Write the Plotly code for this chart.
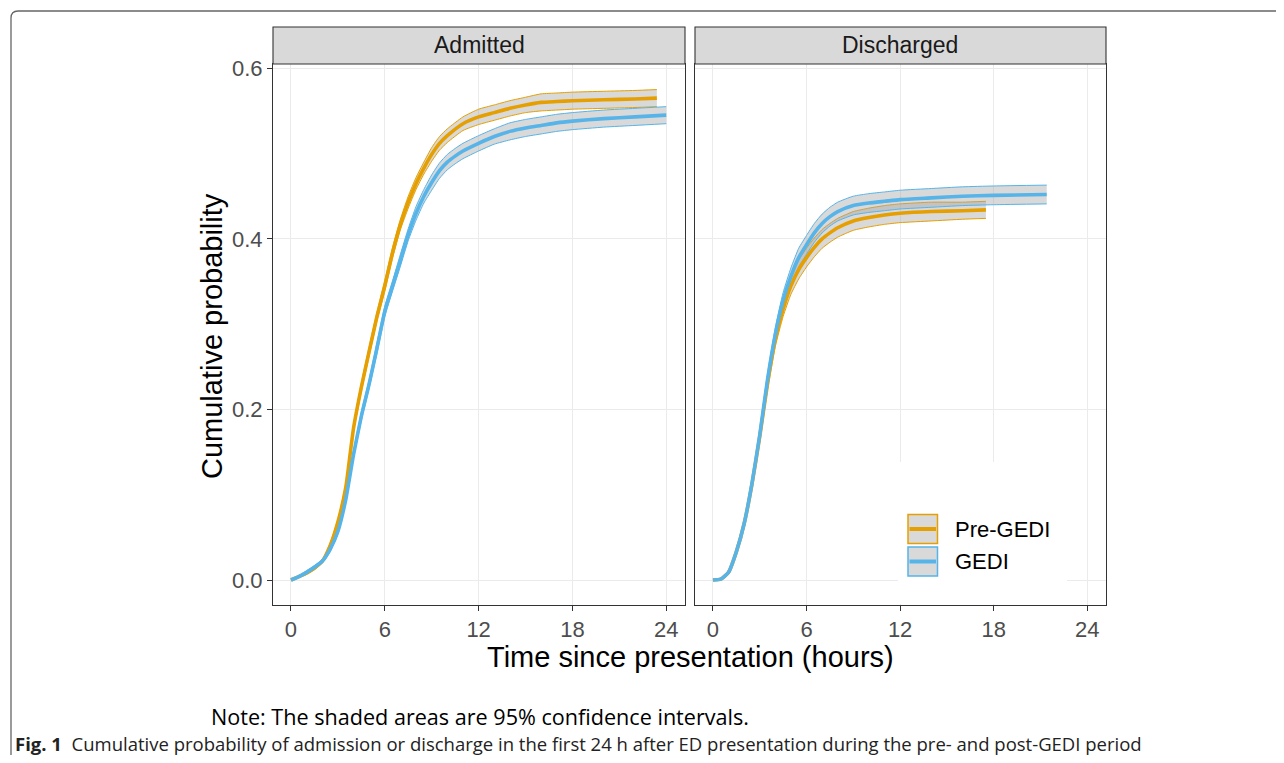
import plotly.graph_objects as go

# page body has an 8px margin; the figure is sized so that it fills the window exactly
OFF = 8
W, H = 1284 - 2 * OFF, 763 - 2 * OFF

# ---------------- data ----------------
panels = ["Admitted", "Discharged"]
groups = ["Pre-GEDI", "GEDI"]
x_ticks = [0, 6, 12, 18, 24]
y_ticks = [0, 0.2, 0.4, 0.6]
y_ticklabels = ["0.0", "0.2", "0.4", "0.6"]

adm_pre_t = [0, 0.5, 1, 1.5, 2, 2.5, 3, 3.5, 3.8, 4.0, 4.5, 5, 5.5, 6, 6.5, 7, 7.5, 8, 8.5, 9,
             9.5, 10, 11, 12, 13, 14, 15, 16, 17, 18, 20, 22, 23.4]
adm_pre = [0, .004, .008, .014, .022, .040, .068, .108, .150, .178, .226, .268, .309, .345, .384, .417,
           .443, .465, .483, .499, .512, .521, .535, .543, .548, .553, .557, .560, .561, .562, .563, .564, .565]
adm_pre_lo = [0, .003, .007, .012, .020, .037, .065, .104, .146, .174, .221, .263, .304, .339, .378, .411,
              .436, .458, .476, .491, .504, .513, .527, .534, .539, .544, .548, .550, .551, .552, .553, .554, .555]
adm_pre_hi = [0, .005, .009, .016, .024, .043, .071, .112, .154, .182, .231, .273, .314, .351, .390, .423,
              .450, .472, .490, .507, .520, .529, .543, .552, .557, .562, .566, .570, .571, .572, .573, .574, .575]

adm_gedi_t = [0, 0.5, 1, 1.5, 2, 2.5, 3, 3.5, 4, 4.5, 5, 5.5, 6, 6.5, 7, 7.5, 8, 8.5, 9, 9.5,
              10, 10.5, 11, 12, 13, 14, 15, 16, 17, 18, 20, 22, 24]
adm_gedi = [0, .004, .009, .015, .022, .036, .057, .094, .147, .192, .230, .272, .315, .345, .375, .405,
            .430, .450, .466, .480, .490, .497, .503, .512, .520, .526, .530, .533, .536, .538, .541, .543, .545]
adm_gedi_lo = [0, .003, .007, .013, .020, .033, .054, .090, .143, .187, .225, .266, .309, .339, .368, .398,
               .422, .442, .457, .471, .481, .488, .494, .503, .511, .516, .520, .523, .526, .528, .531, .533, .535]
adm_gedi_hi = [0, .005, .011, .017, .024, .039, .060, .098, .151, .197, .235, .278, .321, .351, .382, .412,
               .438, .458, .475, .489, .499, .506, .512, .521, .529, .536, .540, .543, .546, .548, .551, .553, .555]

dis_pre_t = [0, 0.5, 1, 1.5, 2, 2.5, 3, 3.5, 4, 4.5, 5, 5.5, 6, 6.5, 7, 7.5, 8, 9, 10, 11, 12, 14, 16, 17.5]
dis_pre = [0, .001, .009, .033, .066, .112, .168, .230, .282, .318, .345, .364, .378, .390, .400, .407,
           .413, .421, .425, .428, .430, .432, .433, .434]
dis_pre_lo = [0, .000, .007, .030, .062, .107, .162, .223, .274, .309, .335, .353, .367, .379, .389, .396,
              .402, .410, .414, .417, .419, .421, .423, .424]
dis_pre_hi = [0, .002, .011, .036, .070, .117, .174, .237, .290, .327, .355, .375, .389, .401, .411, .418,
              .424, .432, .436, .439, .441, .443, .443, .444]

dis_gedi_t = [0, 0.5, 1, 1.5, 2, 2.5, 3, 3.5, 4, 4.5, 5, 5.5, 6, 6.5, 7, 7.5, 8, 9, 10, 11, 12, 14, 16, 18, 21.4]
dis_gedi = [0, .001, .009, .033, .066, .113, .170, .235, .288, .328, .356, .378, .393, .407, .418, .426,
            .432, .439, .442, .444, .446, .448, .450, .451, .452]
dis_gedi_lo = [0, .000, .007, .030, .062, .108, .164, .228, .280, .319, .346, .367, .382, .396, .407, .415,
               .421, .428, .431, .433, .435, .437, .439, .440, .441]
dis_gedi_hi = [0, .002, .011, .036, .070, .118, .176, .242, .296, .337, .366, .389, .404, .418, .429, .437,
               .443, .450, .453, .455, .457, .459, .461, .462, .463]

# ---------------- styling ----------------
ORANGE = "#E69F00"
BLUE = "#56B4E9"
RIBBON = "rgba(165,165,165,0.42)"
FONT = "Liberation Sans, Arial, Helvetica, sans-serif"
CAP_FONT = "Open Sans, Noto Sans, sans-serif"


def px(x):
    """reference-window pixel x -> paper fraction"""
    return (x - OFF) / W


def py(y):
    """reference-window pixel y -> paper fraction"""
    return 1 - (y - OFF) / H


series = [
    ("x", "y", "Pre-GEDI", ORANGE, adm_pre_t, adm_pre, adm_pre_lo, adm_pre_hi),
    ("x", "y", "GEDI", BLUE, adm_gedi_t, adm_gedi, adm_gedi_lo, adm_gedi_hi),
    ("x2", "y2", "Pre-GEDI", ORANGE, dis_pre_t, dis_pre, dis_pre_lo, dis_pre_hi),
    ("x2", "y2", "GEDI", BLUE, dis_gedi_t, dis_gedi, dis_gedi_lo, dis_gedi_hi),
]

fig = go.Figure()
LS = dict(shape="spline", smoothing=0.5)

# ribbons first
for xa, ya, g, c, t, mid, lo, hi in series:
    fig.add_trace(go.Scatter(x=t, y=hi, xaxis=xa, yaxis=ya, mode="lines",
                             line=dict(color=c, width=1, **LS), showlegend=False, hoverinfo="skip"))
    fig.add_trace(go.Scatter(x=t, y=lo, xaxis=xa, yaxis=ya, mode="lines", fill="tonexty",
                             fillcolor=RIBBON, line=dict(color=c, width=1, **LS),
                             showlegend=False, hoverinfo="skip"))
# centre lines
for xa, ya, g, c, t, mid, lo, hi in series:
    fig.add_trace(go.Scatter(x=t, y=mid, xaxis=xa, yaxis=ya, mode="lines", name=g,
                             line=dict(color=c, width=3.6, **LS), showlegend=False))

x_range = [-1.15, 25.2]
y_range = [-0.0293, 0.605]
ydom = [py(605), py(64)]

common_x = dict(range=x_range, tickvals=x_ticks, showgrid=True, gridcolor="#ebebeb", gridwidth=1.1,
                zeroline=False, showline=True, mirror=True, linecolor="#333333", linewidth=1.1,
                ticks="outside", ticklen=5, tickcolor="#333333", tickwidth=1.1,
                tickfont=dict(family=FONT, size=22, color="#4d4d4d"), automargin=False, fixedrange=True)
common_y = dict(range=y_range, tickvals=y_ticks, ticktext=y_ticklabels, showgrid=True,
                gridcolor="#ebebeb", gridwidth=1.1, zeroline=False, showline=True, mirror=True,
                linecolor="#333333", linewidth=1.1, domain=ydom, automargin=False, fixedrange=True)

fig.update_layout(
    width=W, height=H,
    margin=dict(l=0, r=0, t=0, b=0),
    paper_bgcolor="white", plot_bgcolor="white",
    showlegend=False,
    xaxis=dict(domain=[px(273), px(685)], anchor="y", **common_x),
    xaxis2=dict(domain=[px(695), px(1106)], anchor="y2", **common_x),
    yaxis=dict(anchor="x", ticks="outside", ticklen=5, tickcolor="#333333", tickwidth=1.1,
               tickfont=dict(family=FONT, size=22, color="#4d4d4d"), **common_y),
    yaxis2=dict(anchor="x2", showticklabels=False, ticks="", **common_y),
)

shapes = []
annotations = []

# strips
for name, (x0, x1) in zip(panels, [(273, 685), (695, 1106)]):
    shapes.append(dict(type="rect", xref="paper", yref="paper", x0=px(x0), x1=px(x1),
                       y0=py(64), y1=py(27), fillcolor="#d9d9d9",
                       line=dict(color="#333333", width=1.1), layer="above"))
    annotations.append(dict(text=name, xref="paper", yref="paper", x=px((x0 + x1) / 2), y=py(45.5),
                            xanchor="center", yanchor="middle", showarrow=False,
                            font=dict(family=FONT, size=23, color="#1a1a1a")))

# axis titles
annotations.append(dict(text="Time since presentation (hours)", xref="paper", yref="paper",
                        x=px(690), y=py(657), xanchor="center", yanchor="middle", showarrow=False,
                        font=dict(family=FONT, size=29, color="black")))
annotations.append(dict(text="Cumulative probability", xref="paper", yref="paper",
                        x=px(212), y=py(336), xanchor="center", yanchor="middle", showarrow=False,
                        textangle=-90, font=dict(family=FONT, size=29, color="black")))

# legend (inside discharged panel)
shapes.append(dict(type="rect", xref="paper", yref="paper", x0=px(898), x1=px(1067),
                   y0=py(604), y1=py(462), fillcolor="white", line=dict(width=0), layer="above"))
for g, c, (ky0, ky1) in zip(groups, [ORANGE, BLUE], [(514.5, 543.5), (547, 576)]):
    shapes.append(dict(type="rect", xref="paper", yref="paper", x0=px(908), x1=px(937.5),
                       y0=py(ky1), y1=py(ky0), fillcolor="#d9d9d9",
                       line=dict(color=c, width=1.5), layer="above"))
    ym = (ky0 + ky1) / 2
    shapes.append(dict(type="line", xref="paper", yref="paper", x0=px(909.5), x1=px(936),
                       y0=py(ym), y1=py(ym), line=dict(color=c, width=4), layer="above"))
    annotations.append(dict(text=g, xref="paper", yref="paper", x=px(953), y=py(ym),
                            xanchor="left", yanchor="middle", showarrow=False,
                            font=dict(family=FONT, size=22, color="black")))

# outer frame (rounded top-left corner)
frame_path = (f"M {px(11)},{py(770)} L {px(11)},{py(18)} "
              f"Q {px(11)},{py(11)} {px(18)},{py(11)} L {px(1290)},{py(11)}")
shapes.append(dict(type="path", xref="paper", yref="paper", path=frame_path,
                   line=dict(color="#666666", width=1.3), layer="above"))

# captions
annotations.append(dict(text="Note: The shaded areas are 95% confidence intervals.", xref="paper",
                        yref="paper", x=px(209), y=py(716), xanchor="left", yanchor="middle",
                        showarrow=False, font=dict(family=CAP_FONT, size=21.6, color="black")))
annotations.append(dict(text="<b>Fig. 1</b>  Cumulative probability of admission or discharge in the first 24 h "
                             "after ED presentation during the pre- and post-GEDI period",
                        xref="paper", yref="paper", x=px(13), y=py(743), xanchor="left",
                        yanchor="middle", showarrow=False,
                        font=dict(family=CAP_FONT, size=18.5, color="#222222")))

fig.update_layout(shapes=shapes, annotations=annotations)
fig.write_html("out.html")
